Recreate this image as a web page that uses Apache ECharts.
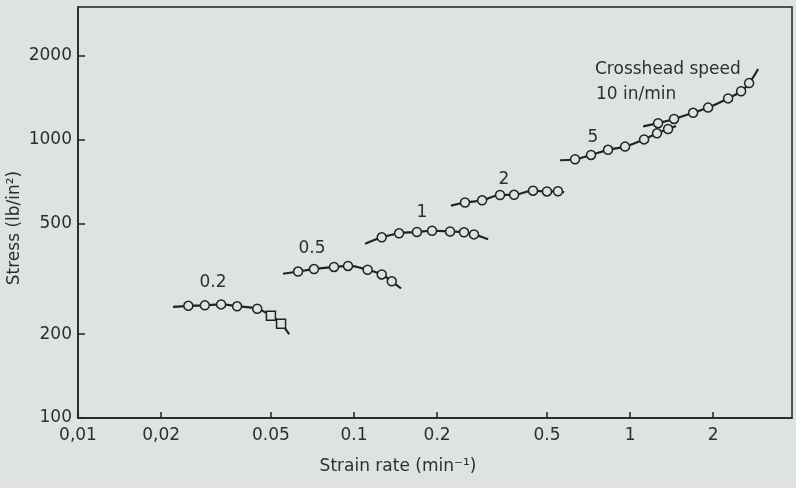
<!DOCTYPE html>
<html>
<head>
<meta charset="utf-8">
<script src="https://cdn.jsdelivr.net/npm/echarts@6/dist/echarts.min.js"></script>
<style>
  html, body { margin: 0; padding: 0; background: #dfe3e0; }
  #chart { width: 796px; height: 488px; }
</style>
</head>
<body>
<div id="chart"></div>
<script>
// tick positions and labels (the scan prints the first two with a comma)
const xTicks = [0.01, 0.02, 0.05, 0.1, 0.2, 0.5, 1, 2]
const xTickLabels = ['0,01', '0,02', '0.05', '0.1', '0.2', '0.5', '1', '2']
const yTicks = [100, 200, 500, 1000, 2000]
const yTickLabels = ['100', '200', '500', '1000', '2000']

// crosshead speeds (in/min), one curve each
const speeds = ['0.2', '0.5', '1', '2', '5', '10']

// strain rate (min^-1) and stress (lb/in^2)
// first / last point of a curve is the bare line end (no marker)
const rate02 = [0.0221, 0.0251, 0.0288, 0.033, 0.0377, 0.0446, 0.05, 0.0544, 0.0582]
const stress02 = [251, 253, 254, 256, 252, 247, 233, 218, 200]
const rate05 = [0.0553, 0.0627, 0.0716, 0.0846, 0.0951, 0.112, 0.126, 0.137, 0.148]
const stress05 = [330, 336, 343, 349, 352, 341, 328, 310, 292]
const rate1 = [0.1097, 0.126, 0.1456, 0.169, 0.1917, 0.2228, 0.2503, 0.272, 0.306]
const stress1 = [423, 446, 461, 466, 471, 468, 465, 457, 439]
const rate2 = [0.2246, 0.2523, 0.291, 0.338, 0.380, 0.445, 0.500, 0.548, 0.577]
const stress2 = [580, 595, 606, 633, 634, 656, 652, 653, 647]
const rate5 = [0.558, 0.632, 0.722, 0.832, 0.959, 1.124, 1.252, 1.373, 1.468]
const stress5 = [844, 851, 882, 920, 945, 1003, 1055, 1093, 1121]
const rate10 = [1.115, 1.263, 1.443, 1.692, 1.917, 2.265, 2.525, 2.699, 2.910]
const stress10 = [1117, 1147, 1188, 1250, 1305, 1408, 1494, 1598, 1796]

// square markers on the 0.2 curve (indices)
const squares02 = [6, 7]

const ink = '#222'
const paper = '#dfe3e0'
const textColor = '#2e2e2e'
const font = 'DejaVu Sans'

function curve(name, rates, stresses, squares) {
  squares = squares || []
  const data = rates.map((r, i) => {
    const last = i === rates.length - 1
    const p = { value: [r, stresses[i]] }
    if (i === 0 || last) p.symbol = 'none'
    else if (squares.indexOf(i) >= 0) p.symbol = 'rect'
    return p
  })
  return {
    name: name,
    type: 'line',
    data: data,
    smooth: 0.4,
    symbol: 'circle',
    symbolSize: 9,
    showAllSymbol: true,
    lineStyle: { color: ink, width: 2.2 },
    itemStyle: { color: paper, borderColor: ink, borderWidth: 1.5 },
    z: 3
  }
}

function tickText(list, labels) {
  return function (v) {
    for (let i = 0; i < list.length; i++) {
      if (Math.abs(v - list[i]) / list[i] < 1e-6) return labels[i]
    }
    return ''
  }
}

function label(text, x, y, size, align) {
  return {
    type: 'text', x: x, y: y,
    style: { text: text, fill: textColor, font: size + 'px ' + font, align: align || 'center', verticalAlign: 'middle' }
  }
}

const yName = label('Stress (lb/in²)', 15, 228, 17)
yName.rotation = Math.PI / 2

const option = {
  backgroundColor: paper,
  animation: false,
  grid: {
    left: 78, right: 4, top: 7, bottom: 70,
    show: true, borderColor: ink, borderWidth: 1.5
  },
  xAxis: {
    type: 'log',
    logBase: 10,
    min: 0.01,
    max: 3.86,
    axisLine: { lineStyle: { color: ink, width: 1.5 } },
    axisTick: { inside: true, length: 6, customValues: xTicks, lineStyle: { color: ink, width: 1.5 } },
    axisLabel: {
      customValues: xTicks,
      formatter: tickText(xTicks, xTickLabels),
      color: textColor, fontFamily: font, fontSize: 17, margin: 9
    },
    splitLine: { show: false }
  },
  yAxis: {
    type: 'log',
    logBase: 10,
    min: 100,
    max: 3000,
    axisLine: { lineStyle: { color: ink, width: 1.5 } },
    axisTick: { inside: true, length: 7, customValues: yTicks, lineStyle: { color: ink, width: 1.5 } },
    axisLabel: {
      customValues: yTicks,
      formatter: tickText(yTicks, yTickLabels),
      color: textColor, fontFamily: font, fontSize: 17, margin: 6
    },
    splitLine: { show: false }
  },
  series: [
    curve(speeds[0], rate02, stress02, squares02),
    curve(speeds[1], rate05, stress05),
    curve(speeds[2], rate1, stress1),
    curve(speeds[3], rate2, stress2),
    curve(speeds[4], rate5, stress5),
    curve(speeds[5], rate10, stress10)
  ],
  graphic: [
    yName,
    label('Strain rate (min⁻¹)', 398, 467, 17),
    label('0.2', 213, 283, 17),
    label('0.5', 312, 249, 17),
    label('1', 422, 213, 17),
    label('2', 504, 180, 17),
    label('5', 593, 138, 17),
    label('Crosshead speed', 595, 70, 17, 'left'),
    label('10 in/min', 596, 95, 17, 'left')
  ]
}

const myChart = echarts.init(document.getElementById('chart'))
myChart.setOption(option)
</script>
</body>
</html>
